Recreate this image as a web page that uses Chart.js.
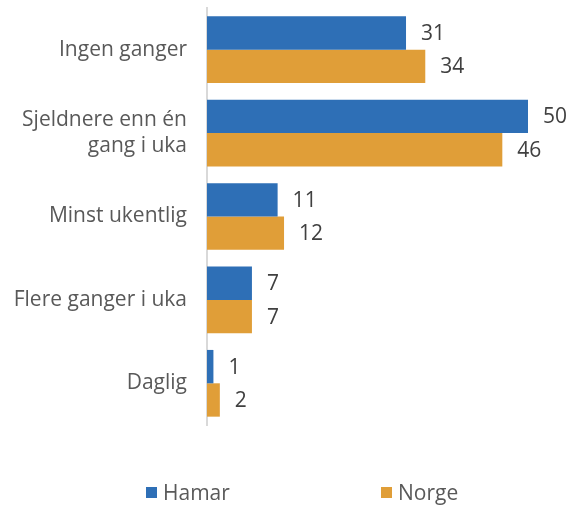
<!DOCTYPE html>
<html lang="no">
<head>
<meta charset="utf-8">
<script src="https://cdn.jsdelivr.net/npm/chart.js@4"></script>
<style>
  html, body { margin: 0; padding: 0; background: #fff; }
  #wrap { position: relative; width: 582px; height: 505px; }
  #legend { position: absolute; top: 480px; left: 0; width: 582px; height: 24px;
            font-family: "Open Sans", sans-serif; font-size: 21px; color: #595959; }
  .item { position: absolute; top: 0; display: flex; align-items: center; height: 24px; }
  .box { width: 11px; height: 11px; margin-right: 6px; }
</style>
</head>
<body>
<div id="wrap">
  <canvas id="chart" width="582" height="505"></canvas>
  <div id="legend"></div>
</div>
<script>
// --- Data ---
const kategorier = [
  'Ingen ganger',
  ['Sjeldnere enn én', 'gang i uka'],
  'Minst ukentlig',
  'Flere ganger i uka',
  'Daglig'
];
const hamar = [31, 50, 11, 7, 1];
const norge = [34, 46, 12, 7, 2];
const serier = ['Hamar', 'Norge'];
const farger = ['#2E6FB6', '#E09E38'];

const FONT = '"Open Sans", sans-serif';

// Verdien skrives til høyre for hver stolpe
const verdiEtiketter = {
  id: 'verdiEtiketter',
  afterDatasetsDraw(chart) {
    const ctx = chart.ctx;
    ctx.save();
    ctx.font = '21px ' + FONT;
    ctx.fillStyle = '#404040';
    ctx.textAlign = 'left';
    ctx.textBaseline = 'middle';
    chart.data.datasets.forEach((ds, i) => {
      chart.getDatasetMeta(i).data.forEach((bar, j) => {
        ctx.fillText(ds.data[j], bar.x + 15, bar.y + 1);
      });
    });
    ctx.restore();
  }
};

new Chart(document.getElementById('chart'), {
  type: 'bar',
  data: {
    labels: kategorier,
    datasets: [
      { label: serier[0], data: hamar, backgroundColor: farger[0] },
      { label: serier[1], data: norge, backgroundColor: farger[1] }
    ]
  },
  options: {
    indexAxis: 'y',
    responsive: false,
    animation: false,
    layout: { padding: { top: 8, right: 54, bottom: 80, left: 0 } },
    datasets: { bar: { categoryPercentage: 0.8, barPercentage: 1.0 } },
    plugins: { legend: { display: false }, tooltip: { enabled: false } },
    scales: {
      x: { display: false, min: 0, max: 50 },
      y: {
        grid: { display: false, drawTicks: false },
        border: { display: true, color: '#d9d9d9', width: 2 },
        ticks: { color: '#595959', padding: 20, font: { family: FONT, size: 21 } },
        afterFit(scale) {
          // fast bredde på kategoriaksen, ingen ekstra luft over/under
          scale.width = 207;
          scale.paddingTop = 0;
          scale.paddingBottom = 0;
        }
      }
    }
  },
  plugins: [verdiEtiketter]
});

// Forklaring under diagrammet
const legend = document.getElementById('legend');
const legendX = [146, 381];
serier.forEach((navn, i) => {
  const el = document.createElement('div');
  el.className = 'item';
  el.style.left = legendX[i] + 'px';
  el.innerHTML = `<span class="box" style="background:${farger[i]}"></span><span>${navn}</span>`;
  legend.appendChild(el);
});
</script>
</body>
</html>
